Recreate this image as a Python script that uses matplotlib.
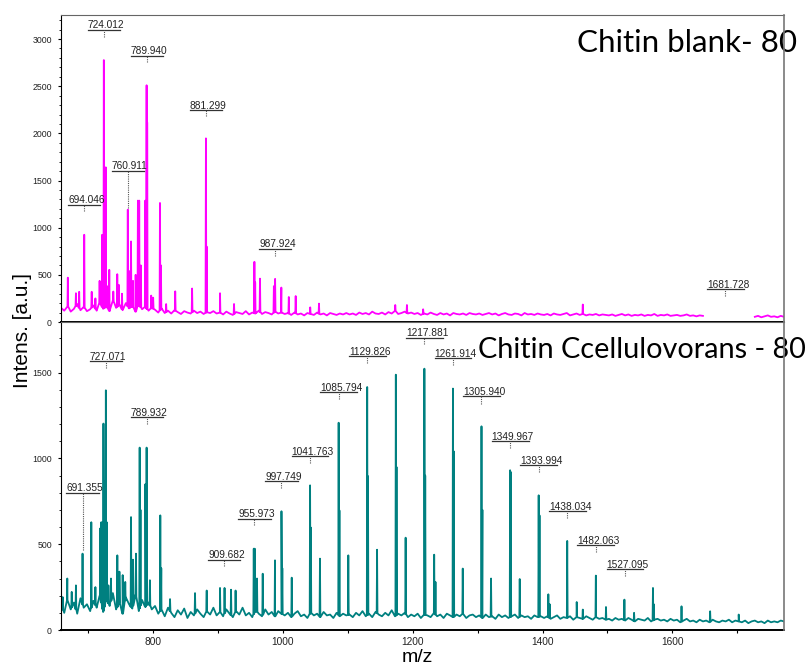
"""MALDI spectra: chitin blank vs chitin + C. cellulovorans"""
import numpy as np
import matplotlib
matplotlib.use("Agg")
import matplotlib.pyplot as plt

# m/z range shared by both panels
MZ_MIN, MZ_MAX = 658, 1772

# --- Top panel: Chitin blank ---------------------------------------------
# baseline noise, evenly spaced across the m/z range (nan = no signal drawn)
blank_base = [
    150, 120, 170, 110, 140, 190, 125, 160, 115,
    135, 175, 120, 210, 140, 165, 115, 230, 150, 185, 125, 200, 145, 170, 110, 190, 135, 160, 120, 150,
    130, 100, 145, 95, 120, 90, 125, 105, 85, 115, 100, 90, 120, 95, 110, 85, 105, 95, 115, 90,
    100, 80, 110, 90, 75, 105, 95, 85, 115, 80, 100, 90, 120, 85, 105, 95, 80, 110, 90, 100,
    85, 95, 75, 100, 80, 90, 70, 95, 85, 75, 100, 80, 90, 70, 95, 85, 75, 90, 80, 95,
    80, 90, 75, 100, 85, 95, 80, 110, 90, 85, 100, 80, 105, 90, 120, 85, 95, 110, 90, 100,
    85, 95, 75, 90, 80, 100, 85, 75, 95, 80, 90, 70, 95, 85, 80, 90, 75, 95, 85, 80,
    90, 75, 85, 95, 80, 90, 70, 85, 95, 80, 75, 90, 85, 70, 95, 80, 85, 75, 90, 80,
    75, 85, 70, 90, 80, 75, 85, 95, 70, 80, 90, 75, 85, 70, 80, 75, 85, 70, 80, 75,
    70, 80, 65, 75, 85, 70, 80, 65, 75, 70, 80, 65, 75, 70, 85, 65, 75, 70, 80, 65,
    70, 75, 65, 70, 80, 65, 70, 60, 70, 65,
    np.nan, np.nan, np.nan, np.nan, np.nan, np.nan, np.nan, np.nan,
    np.nan, np.nan, np.nan, np.nan, np.nan, np.nan, np.nan,
    55, 65, 50, 60, 70, 55, 60, 50, 65, 55,
]
blank_peak_mz = [
    668.5, 681.0, 686.0, 693.8, 705.3, 711.0, 717.5, 721.5, 724.0, 725.0,
    727.0, 729.0, 732.4, 738.6, 744.7, 747.0, 752.0, 760.9, 763.0, 765.9,
    769.0, 773.0, 776.5, 778.5, 781.0, 787.8, 789.9, 790.8, 797.0, 800.0,
    810.5, 812.0, 820.0, 834.0, 860.0, 881.3, 882.4, 903.0, 924.6, 956.0,
    957.2, 964.6, 986.0, 987.9, 997.5, 1009.0, 1019.6, 1042.0, 1055.5, 1173.0,
    1191.0, 1216.0, 1462.0,
]
blank_peak_h = [
    470, 305, 320, 925, 320, 250, 436, 925, 2777, 925,
    1640, 380, 553, 323, 507, 394, 300, 1191, 540, 854,
    436, 500, 1287, 1287, 600, 1287, 2510, 2117, 280, 258,
    1262, 600, 190, 325, 355, 1947, 800, 305, 191, 638,
    420, 460, 380, 457, 365, 265, 275, 155, 195, 180,
    180, 135, 185,
]
# annotated peaks: label, m/z, underline level, tick end level
blank_labels = ["694.046", "724.012", "760.911", "789.940", "881.299", "987.924", "1681.728"]
blank_label_mz = [694.0, 724.0, 760.9, 789.9, 881.3, 987.9, 1681.7]
blank_label_top = [1245, 3100, 1606, 2822, 2248, 777, 351]
blank_label_bot = [1173, 3025, 1209, 2752, 2184, 702, 280]

# --- Bottom panel: Chitin + C. cellulovorans -------------------------------
cell_base = [
    140, 100, 175, 120, 160, 95, 185, 130, 150,
    110, 170, 130, 200, 105, 180, 140, 215, 120, 160, 95, 190, 150, 125, 205, 110, 175, 135, 160, 120,
    140, 95, 120, 80, 130, 100, 75, 115, 90, 125, 70, 105, 85, 120, 95, 75, 110, 90, 130, 85,
    105, 80, 120, 95, 75, 110, 90, 130, 85, 100, 75, 115, 95, 80, 120, 90, 105, 80, 110, 95,
    85, 100, 75, 95, 110, 80, 90, 70, 100, 85, 95, 75, 105, 85, 90, 70, 100, 80, 95, 85,
    90, 75, 100, 85, 110, 80, 95, 75, 105, 90, 80, 100, 85, 115, 80, 95, 85, 100, 75, 90,
    80, 95, 70, 90, 85, 75, 100, 80, 90, 70, 95, 85, 75, 90, 80, 95, 70, 85, 90, 75,
    85, 70, 90, 75, 80, 65, 90, 75, 85, 70, 80, 90, 70, 85, 75, 80, 65, 85, 75, 80,
    70, 80, 65, 75, 85, 65, 75, 70, 80, 60, 75, 70, 65, 80, 70, 60, 75, 65, 70, 60,
    65, 55, 70, 60, 65, 55, 70, 60, 50, 65, 60, 55, 70, 50, 60, 65, 55, 60, 50, 65,
    55, 60, 45, 55, 65, 50, 55, 45, 60, 50, 55, 45, 60, 50, 45, 55, 50, 60, 45, 55,
    50, 45, 55, 40, 50, 55, 45, 50, 40, 55, 45, 50, 45, 55, 50,
]
cell_peak_mz = [
    660.6, 667.7, 674.5, 681.0, 691.2, 704.7, 711.0, 718.0, 720.0, 722.0,
    723.4, 725.0, 727.1, 728.5, 731.0, 735.0, 744.8, 748.0, 753.0, 757.0,
    765.9, 769.0, 773.5, 779.2, 780.5, 788.0, 789.9, 795.0, 811.0, 812.5,
    826.0, 864.5, 882.5, 903.0, 910.0, 920.0, 927.0, 955.0, 956.5, 960.0,
    968.8, 987.7, 997.7, 999.0, 1013.5, 1041.8, 1043.0, 1057.0, 1085.8, 1087.0,
    1100.7, 1129.8, 1131.0, 1145.0, 1173.9, 1175.0, 1189.0, 1217.9, 1219.2, 1233.0,
    1235.0, 1261.9, 1263.2, 1277.0, 1305.9, 1307.3, 1320.6, 1350.0, 1351.0, 1364.8,
    1394.0, 1395.3, 1408.9, 1411.0, 1438.0, 1452.6, 1462.0, 1482.1, 1497.7, 1526.1,
    1541.0, 1570.1, 1571.4, 1614.1, 1658.2, 1702.2,
]
cell_peak_h = [
    192, 300, 222, 260, 445, 628, 250, 591, 628, 628,
    1203, 868, 1397, 628, 260, 300, 435, 340, 320, 280,
    658, 410, 445, 1063, 700, 850, 1063, 290, 668, 360,
    180, 215, 230, 245, 245, 235, 230, 474, 474, 300,
    328, 406, 692, 360, 305, 843, 597, 416, 1208, 697,
    435, 1416, 897, 468, 1488, 950, 538, 1523, 900, 439,
    280, 1407, 1041, 358, 1187, 700, 300, 931, 921, 297,
    785, 668, 208, 150, 519, 163, 119, 317, 134, 177,
    100, 245, 150, 138, 109, 90,
]
cell_labels = [
    "691.355", "727.071", "789.932", "909.682", "955.973", "997.749",
    "1041.763", "1085.794", "1129.826", "1217.881", "1261.914", "1305.940",
    "1349.967", "1393.994", "1438.034", "1482.063", "1527.095",
]
cell_label_mz = [
    691.2, 727.1, 789.9, 909.7, 956.0, 997.7,
    1041.8, 1085.8, 1129.8, 1217.9, 1261.9, 1305.9,
    1350.0, 1394.0, 1438.0, 1482.1, 1527.1,
]
cell_label_top = [800, 1568, 1241, 410, 649, 866, 1014, 1387, 1595, 1704, 1583, 1362, 1101, 962, 693, 494, 354]
cell_label_bot = [464, 1529, 1203, 371, 610, 828, 975, 1348, 1558, 1665, 1543, 1319, 1063, 921, 655, 455, 315]

MAGENTA = "#FF00FF"
TEAL = "#008080"
LABEL_FONT = "Liberation Sans"
TITLE_FONT = "Lato"


def build_trace(base_vals, peak_mz, peak_h):
    """Join baseline noise and peak spikes into one polyline."""
    base = np.array(base_vals, dtype=float)
    grid = np.linspace(MZ_MIN, MZ_MAX, len(base))
    pm = np.array(peak_mz, dtype=float)
    ph = np.array(peak_h, dtype=float)
    foot = np.interp(pm, grid, base)
    xs = np.concatenate([grid, pm - 0.6, pm, pm + 0.6])
    ys = np.concatenate([base, foot, ph, foot])
    order = np.argsort(xs, kind="stable")
    return xs[order], ys[order]


def style_axes(ax, ymax, major, show_x):
    ax.set_xlim(MZ_MIN, MZ_MAX)
    ax.set_ylim(0, ymax)
    ax.yaxis.set_major_locator(plt.MultipleLocator(major))
    ax.yaxis.set_minor_locator(plt.MultipleLocator(100))
    ax.xaxis.set_major_locator(plt.MultipleLocator(200))
    ax.xaxis.set_minor_locator(plt.MultipleLocator(100))
    ax.tick_params(axis="y", which="major", length=2.5, width=0.8, pad=4,
                   labelsize=6.3, labelcolor="#222222")
    ax.tick_params(axis="y", which="minor", length=1.6, width=0.6)
    if show_x:
        ax.tick_params(axis="x", which="both", length=2.2, width=0.8, pad=3,
                       labelsize=7.3, labelcolor="#222222")
    else:
        ax.tick_params(axis="x", which="both", bottom=False, labelbottom=False)
    for lab in ax.get_xticklabels() + ax.get_yticklabels():
        lab.set_family(LABEL_FONT)
    ax.spines["left"].set_color("black")
    ax.spines["bottom"].set_color("black")
    ax.spines["bottom"].set_linewidth(1.4)
    ax.spines["top"].set_color("#666666")
    ax.spines["right"].set_color("#777777")
    ax.spines["right"].set_linewidth(1.2)
    ax.spines["right"].set_zorder(12)


def add_peak_labels(ax, fig, texts, mzs, tops, bots):
    # pixel width of the axes -> m/z per pixel, so underline widths are in px
    ax_px = ax.get_position().width * fig.get_figwidth() * fig.dpi
    mz_per_px = (MZ_MAX - MZ_MIN) / ax_px
    for text, mz, top, bot in zip(texts, mzs, tops, bots):
        half = 4.6 * len(text) / 2 * mz_per_px
        ax.plot([mz - half, mz + half], [top, top], color="#333333", lw=0.9, zorder=5)
        ax.plot([mz, mz], [bot, top], color="#555555", lw=0.8, ls=(0, (1, 1)), zorder=5)
        ax.annotate(text, (mz - half, top), xytext=(0, 1.0), textcoords="offset points",
                    ha="left", va="baseline", fontsize=7.3, family=LABEL_FONT,
                    color="#222222", zorder=6)


fig = plt.figure(figsize=(8.11, 6.71), dpi=100)
ax_top = fig.add_axes([61 / 811, 1 - 322 / 671, 723 / 811, 307 / 671])
ax_bot = fig.add_axes([61 / 811, 1 - 630 / 671, 723 / 811, 308 / 671])

# top spectrum
x, y = build_trace(blank_base, blank_peak_mz, blank_peak_h)
ax_top.plot(x, y, color=MAGENTA, lw=1.3)
style_axes(ax_top, 3255, 500, show_x=False)
add_peak_labels(ax_top, fig, blank_labels, blank_label_mz, blank_label_top, blank_label_bot)
ax_top.text(0.714, 0.879, "Chitin blank- 80", transform=ax_top.transAxes,
            ha="left", va="baseline", fontsize=22.6, family=TITLE_FONT, zorder=10)

# bottom spectrum
x, y = build_trace(cell_base, cell_peak_mz, cell_peak_h)
ax_bot.plot(x, y, color=TEAL, lw=1.3)
style_axes(ax_bot, 1795, 500, show_x=True)
add_peak_labels(ax_bot, fig, cell_labels, cell_label_mz, cell_label_top, cell_label_bot)
ax_bot.text(0.577, 0.884, "Chitin Ccellulovorans - 80", transform=ax_bot.transAxes,
            ha="left", va="baseline", fontsize=20.8, family=TITLE_FONT, zorder=10)

fig.text(22.5 / 811, 1 - 330 / 671, "Intens. [a.u.]", rotation=90, ha="center", va="center",
         fontsize=15, family=LABEL_FONT)
fig.text(417 / 811, 1 - 657 / 671, "m/z", ha="center", va="center",
         fontsize=14, family=LABEL_FONT)

fig.savefig("out.png", dpi=100)
plt.close(fig)
